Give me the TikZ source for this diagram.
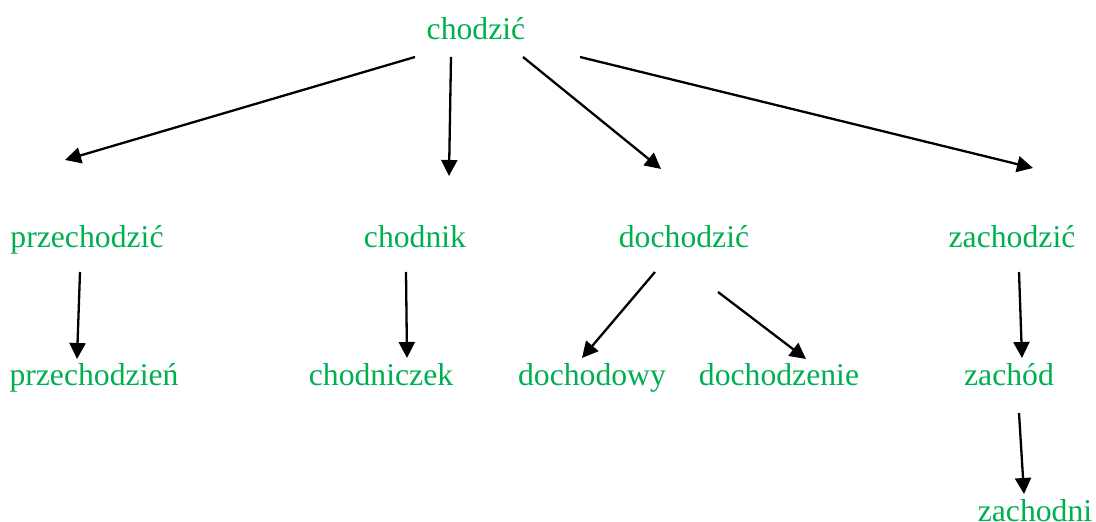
\documentclass[tikz,border=0pt]{standalone}
\usepackage{fontspec}
\setmainfont{Liberation Serif}
\usepackage{tikz}
\usetikzlibrary{arrows.meta}
\definecolor{wordgreen}{RGB}{0,176,80}
\tikzset{
  word/.style={text=wordgreen,inner sep=0pt,anchor=base,font=\fontsize{15.85}{19}\selectfont},
  arr/.style={line width=1.15pt,-{Triangle[length=8pt,width=8pt]}}
}

\begin{document}
\begin{tikzpicture}[x=0.5pt,y=-0.5pt]
\useasboundingbox (0,0) rectangle (1096,522);
% words
\node[word] (chodzic) at (476,40) {chodzić};
\node[word] (przechodzic) at (87,248) {przechodzić};
\node[word] (chodnik) at (415,248) {chodnik};
\node[word] (dochodzic) at (684,248) {dochodzić};
\node[word] (zachodzic) at (1012,248) {zachodzić};
\node[word] (przechodzien) at (94,386) {przechodzień};
\node[word] (chodniczek) at (381,386) {chodniczek};
\node[word] (dochodowy) at (592,386) {dochodowy};
\node[word] (dochodzenie) at (779,386) {dochodzenie};
\node[word] (zachod) at (1009,386) {zachód};
\node[word] (zachodni) at (1035,522) {zachodni};
% arrow ends
\coordinate (c1) at (415,57);  \coordinate (p1) at (65,160);
\coordinate (c2) at (451,57);  \coordinate (p2) at (449,176);
\coordinate (c3) at (523,57);  \coordinate (p3) at (661,169);
\coordinate (c4) at (580,57);  \coordinate (p4) at (1033,168);
\coordinate (c5) at (80,272);  \coordinate (p5) at (77,359);
\coordinate (c6) at (406,272); \coordinate (p6) at (407,358);
\coordinate (c7) at (655,272); \coordinate (p7) at (582,358);
\coordinate (c8) at (718,292); \coordinate (p8) at (806,359);
\coordinate (c9) at (1019,272); \coordinate (p9) at (1022,358);
\coordinate (c10) at (1019,413); \coordinate (p10) at (1024,494);
\draw[arr] (c1) -- (p1);
\draw[arr] (c2) -- (p2);
\draw[arr] (c3) -- (p3);
\draw[arr] (c4) -- (p4);
\draw[arr] (c5) -- (p5);
\draw[arr] (c6) -- (p6);
\draw[arr] (c7) -- (p7);
\draw[arr] (c8) -- (p8);
\draw[arr] (c9) -- (p9);
\draw[arr] (c10) -- (p10);
\end{tikzpicture}
\end{document}
